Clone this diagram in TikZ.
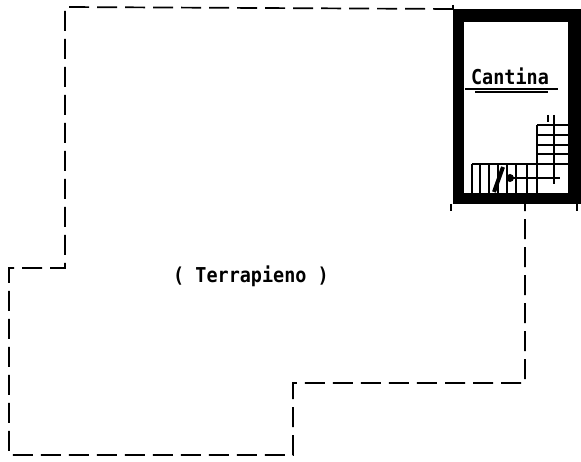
\documentclass[tikz,border=0pt]{standalone}
\usepackage{fontspec}
\setmonofont[FakeStretch=0.9]{DejaVu Sans Mono}
\tikzset{
  outline/.style={line width=1.7pt, dash pattern=on 20pt off 8pt},
  stairline/.style={line width=2pt},
  lettering/.style={font=\ttfamily\bfseries\fontsize{20.5}{22}\selectfont, inner sep=0pt},
}
\begin{document}
\begin{tikzpicture}[x=1pt,y=-1pt]
    \useasboundingbox (0,0) rectangle (581,462);
    \fill[white] (0,0) rectangle (581,462);
    % walls
    \fill[black] (453,9) rectangle (581,204);
    \fill[white] (464,22) rectangle (568,193);
    % boundary of the fill
    \coordinate (a) at (453,9);
    \coordinate (b) at (65,7);
    \coordinate (c) at (65,268);
    \coordinate (d) at (9,268);
    \coordinate (e) at (9,455);
    \coordinate (f) at (293,455);
    \coordinate (g) at (293,383);
    \coordinate (h) at (525,383);
    \coordinate (i) at (525,204);
    \draw[outline] (a) -- (b) -- (c) -- (d) -- (e) -- (f) -- (g) -- (h) -- (i);
    % ticks on the walls
    \draw[stairline] (453,5) -- (453,10);
    \draw[stairline] (451,204) -- (451,211);
    \draw[stairline] (577,204) -- (577,211);
    % stairs
    \draw[stairline] (537,125) -- (568,125);
    \draw[stairline] (537,135) -- (568,135);
    \draw[stairline] (537,145) -- (568,145);
    \draw[stairline] (537,154) -- (568,154);
    \draw[stairline] (472,164) -- (568,164);
    \draw[stairline] (537,125) -- (537,193);
    \foreach \xpos in {472,480,489,498,507,516,527}
      \draw[stairline] (\xpos,164) -- (\xpos,193);
    \draw[stairline] (554,115) -- (554,184);
    \draw[stairline] (548,115) -- (548,122);
    \draw[stairline] (507,178) -- (560,178);
    \fill[black] (510,178) circle (4pt);
    \draw[line width=4pt] (494,192) -- (503,167);
    % labels
    \node[lettering] (cantina) at (510,76) {Cantina};
    \node[lettering] (terrapieno) at (251,276) {( Terrapieno )};
    \draw[line width=1.2pt] (465,89) -- (558,89);
    \draw[line width=2pt] (475,92) -- (548,92);
\end{tikzpicture}
\end{document}
